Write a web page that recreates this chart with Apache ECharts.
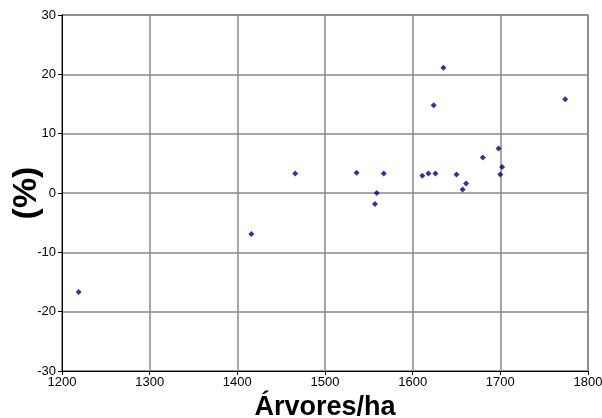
<!DOCTYPE html>
<html><head><meta charset="utf-8">
<script src="https://cdn.jsdelivr.net/npm/echarts@6/dist/echarts.min.js"></script>
<style>html,body{margin:0;padding:0;background:#fff}#c{width:602px;height:418px}</style>
</head><body><div id="c"></div>
<script>
var treesPerHa = [1219, 1416, 1466, 1536, 1557, 1559, 1567, 1611, 1618, 1626, 1624, 1635, 1650, 1657, 1661, 1680, 1698, 1700, 1702, 1774];
var percent    = [-16.7, -6.9, 3.3, 3.4, -1.85, 0, 3.3, 2.9, 3.3, 3.3, 14.8, 21.1, 3.1, 0.6, 1.6, 6.0, 7.5, 3.1, 4.4, 15.8];
var xTitle = 'Árvores/ha';
var yTitle = '(%)';
var pts = treesPerHa.map(function(x,i){return [x, percent[i]];});
var chart = echarts.init(document.getElementById('c'));
chart.setOption({
  animation:false,
  grid:{left:62,right:14,top:15,bottom:47,show:true,borderColor:'#888',borderWidth:1.5,
    containLabel:false,outerBoundsMode:'none'},
  xAxis:{type:'value',min:1200,max:1800,interval:100,
    name:xTitle,nameLocation:'middle',nameGap:23,nameMoveOverlap:false,
    nameTextStyle:{fontFamily:'Liberation Sans',fontWeight:'bold',fontSize:27,color:'#000'},
    axisLine:{onZero:false,lineStyle:{color:'#000',width:1}},
    axisTick:{show:true,length:4,lineStyle:{color:'#000'}},
    axisLabel:{fontFamily:'Liberation Sans',fontSize:13,color:'#000',margin:5,
      formatter:function(v){return String(v);}},
    splitLine:{show:true,lineStyle:{color:'#888',width:1.5}}},
  yAxis:{type:'value',min:-30,max:30,interval:10,
    name:yTitle,nameLocation:'middle',nameGap:18,nameMoveOverlap:false,
    nameTextStyle:{fontFamily:'Liberation Sans',fontWeight:'bold',fontSize:34,color:'#000'},
    axisLine:{show:true,onZero:false,lineStyle:{color:'#000',width:1}},
    axisTick:{show:true,length:4,lineStyle:{color:'#000'}},
    axisLabel:{fontFamily:'Liberation Sans',fontSize:13,color:'#000',margin:6,
      formatter:function(v){return String(v);}},
    splitLine:{show:true,lineStyle:{color:'#888',width:1.5}}},
  series:[{type:'scatter',data:pts,symbol:'diamond',symbolSize:6,
    itemStyle:{color:'#000080'}}]
});
</script></body></html>
